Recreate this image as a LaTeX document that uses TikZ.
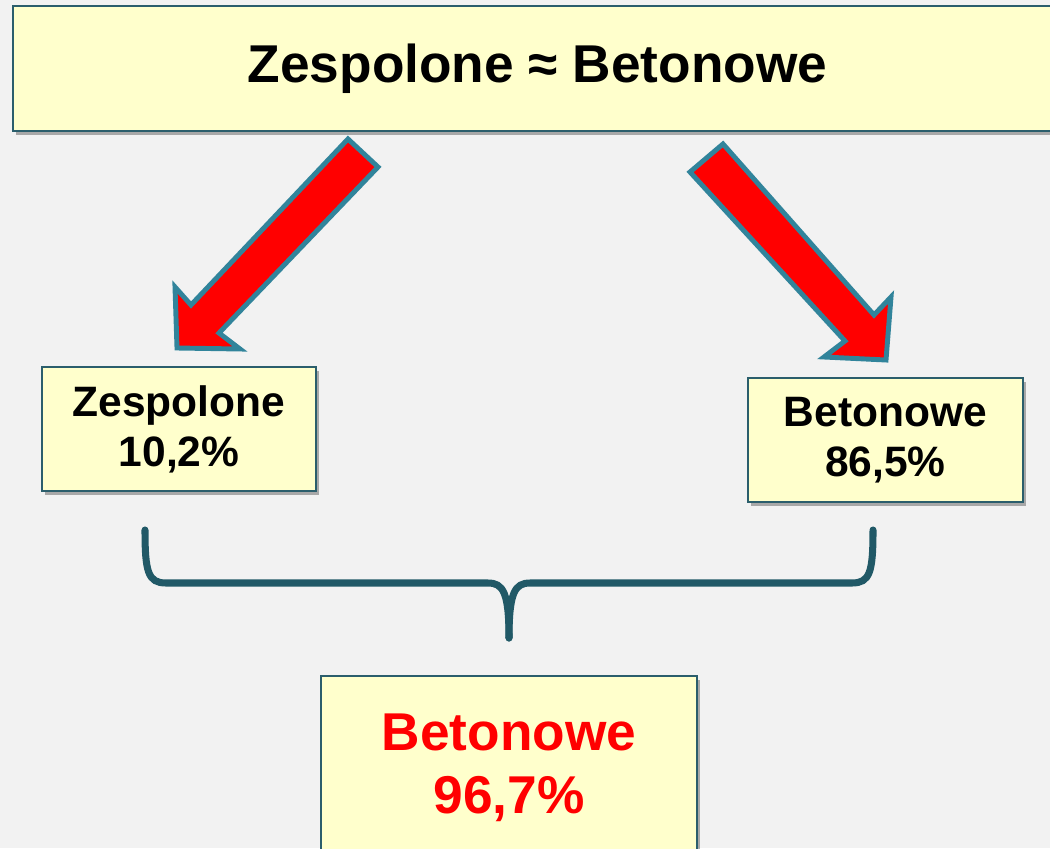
\documentclass[tikz,border=0pt]{standalone}
\usepackage{fontspec}
\setmainfont{Liberation Sans}
\usetikzlibrary{shadows}

\definecolor{pagegray}{HTML}{F2F2F2}
\definecolor{boxfill}{HTML}{FFFFCC}
\definecolor{boxline}{HTML}{2B5E6C}
\definecolor{arrowline}{HTML}{31849B}
\definecolor{braceline}{HTML}{215967}

\begin{document}
\begin{tikzpicture}[x=0.02cm,y=-0.02cm,
    box/.style={draw=boxline, line width=1.2pt, fill=boxfill, align=center, inner sep=0pt,
        drop shadow={shadow xshift=1.5pt, shadow yshift=-2.5pt, fill=black, opacity=.3}},
    bigtext/.style={font=\fontsize{30.3}{36}\selectfont\bfseries},
    smalltext/.style={font=\fontsize{24.2}{28.5}\selectfont\bfseries},
    bigarrow/.style={draw=arrowline, line width=2.8pt, fill=red, line join=miter},
    brace/.style={draw=braceline, line width=4pt, line cap=round}]

    \def\leftarrowshape{(348,139) -- (378,167) -- (219,333) -- (240,349) -- (177,348) -- (175,287) -- (191,305) -- cycle}
    \def\rightarrowshape{(723,144) -- (874,315) -- (891,297) -- (886,360) -- (824,357) -- (845,341) -- (690,172) -- cycle}

    %page:
    \clip (0,0) rectangle (1050,848);
    \fill[pagegray] (0,0) rectangle (1050,848);

    %boxes:
    \node[box, bigtext, minimum width=20.98cm, minimum height=2.5cm] (top) at (537.5,68.5)
        {Zespolone ≈ Betonowe};
    \node[box, smalltext, minimum width=5.48cm, minimum height=2.48cm] (zesp) at (179,429)
        {Zespolone\\10,2\%};
    \node[box, smalltext, minimum width=5.5cm, minimum height=2.48cm] (beton) at (885.5,440)
        {Betonowe\\86,5\%};
    \node[box, bigtext, text=red, minimum width=7.52cm, minimum height=3.68cm] (sum) at (509,768)
        {Betonowe\\96,7\%};

    %arrows:
    \draw[bigarrow] \leftarrowshape;
    \draw[bigarrow] \rightarrowshape;

    %brace:
    \coordinate (bl) at (145,530);
    \coordinate (br) at (873,530);
    \coordinate (bt) at (509,638);
    \draw[brace] (bl) .. controls (145,572) and (148,583) .. (166,583) -- (488,583)
        .. controls (503,583) and (509,592) .. (bt);
    \draw[brace] (br) .. controls (873,572) and (870,583) .. (852,583) -- (530,583)
        .. controls (515,583) and (509,592) .. (bt);

\end{tikzpicture}
\end{document}
